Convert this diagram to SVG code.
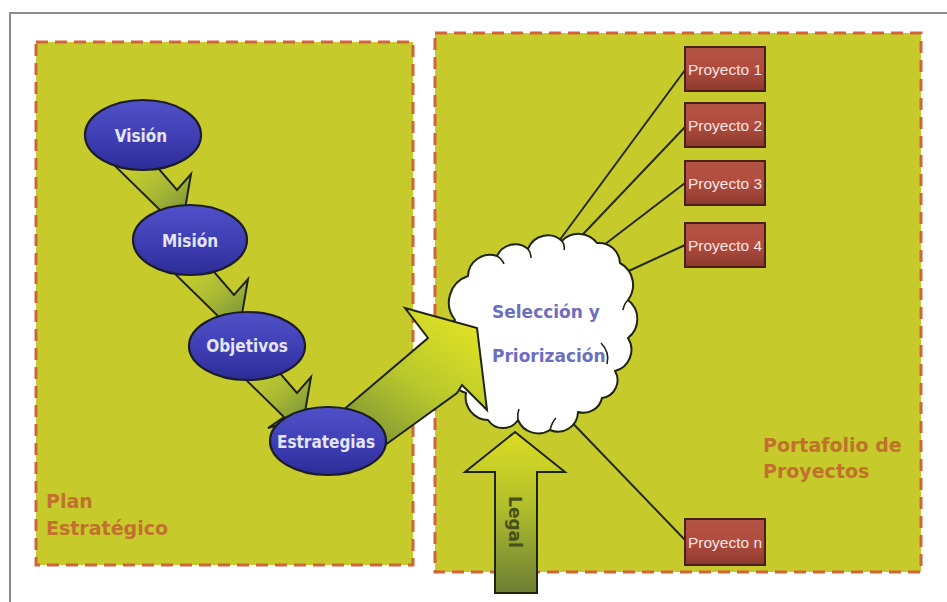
<svg xmlns="http://www.w3.org/2000/svg" width="947" height="602" viewBox="0 0 947 602">
  <style>
    .panel { fill: #c6ca2b; stroke: #d2643a; stroke-width: 3; stroke-dasharray: 12 7; }
    .frame { stroke: #8c8c8c; stroke-width: 2; fill: none; }
    .oval { fill: url(#ovalFill); stroke: #1c1c2a; stroke-width: 2.2; }
    .ovalText { font-family: "DejaVu Sans Condensed", "DejaVu Sans", "Liberation Sans", sans-serif; font-weight: bold; font-size: 17px; fill: #e4e4f8; text-anchor: middle; }
    .step { fill: url(#stepFill); stroke: #1e2410; stroke-width: 2; stroke-linejoin: miter; }
    .link { stroke: #252a0e; stroke-width: 2; fill: none; }
    .proj { fill: url(#projFill); stroke: #4a2016; stroke-width: 2; }
    .projText { font-family: "Liberation Sans", Arial, sans-serif; font-size: 15.5px; fill: #f4e4e4; text-anchor: middle; }
    .caption { font-family: "DejaVu Sans", "Liberation Sans", sans-serif; font-weight: bold; font-size: 19px; fill: #c2702e; }
    .cloud { fill: #ffffff; stroke: #1e2410; stroke-width: 2; stroke-linejoin: round; }
    .cloudText { font-family: "DejaVu Sans", "Liberation Sans", sans-serif; font-weight: bold; font-size: 17px; fill: #6e6ebe; }
    .hook { fill: none; stroke: #1e2410; stroke-width: 1.6; }
  </style>
  <defs>
    <linearGradient id="ovalFill" x1="0" y1="0" x2="0" y2="1">
      <stop offset="0" stop-color="#5050c8"/>
      <stop offset="0.5" stop-color="#4040b6"/>
      <stop offset="1" stop-color="#2c2c98"/>
    </linearGradient>
    <linearGradient id="stepFill" x1="0" y1="0" x2="1" y2="1">
      <stop offset="0" stop-color="#d4da2c"/>
      <stop offset="0.55" stop-color="#a8b834"/>
      <stop offset="1" stop-color="#6e8a3a"/>
    </linearGradient>
    <linearGradient id="bigFill" gradientUnits="userSpaceOnUse" x1="375" y1="455" x2="470" y2="320">
      <stop offset="0" stop-color="#7c9236"/>
      <stop offset="0.5" stop-color="#b8c82c"/>
      <stop offset="1" stop-color="#e2e224"/>
    </linearGradient>
    <linearGradient id="legalFill" x1="0" y1="0" x2="0" y2="1">
      <stop offset="0" stop-color="#dcdc22"/>
      <stop offset="0.45" stop-color="#b2c02c"/>
      <stop offset="1" stop-color="#6c7e34"/>
    </linearGradient>
    <linearGradient id="projFill" x1="0" y1="0" x2="0" y2="1">
      <stop offset="0" stop-color="#b45444"/>
      <stop offset="0.5" stop-color="#b04c3e"/>
      <stop offset="1" stop-color="#8c3a2e"/>
    </linearGradient>
  </defs>

  <rect width="947" height="602" fill="#ffffff"/>
  <path class="frame" d="M10 602 V13 H947"/>

  <!-- panels -->
  <g id="plan-estrategico">
    <rect class="panel" x="36" y="42" width="377" height="523"/>
    <text class="caption" x="46" y="508">Plan</text>
    <text class="caption" x="46" y="535">Estratégico</text>
  </g>
  <g id="portafolio">
    <rect class="panel" x="435" y="33" width="486" height="539"/>
    <text class="caption" x="763" y="452">Portafolio de</text>
    <text class="caption" x="763" y="478">Proyectos</text>
  </g>

  <!-- connectors -->
  <g id="connectors">
    <line class="link" x1="685" y1="70" x2="556" y2="245"/>
    <line class="link" x1="685" y1="127" x2="568" y2="250"/>
    <line class="link" x1="685" y1="183" x2="600" y2="248"/>
    <line class="link" x1="685" y1="245" x2="620" y2="275"/>
    <line class="link" x1="685" y1="540" x2="560" y2="410"/>

    <!-- step arrows between the plan ovals -->
    <polygon class="step" points="112,163 152,161 177,190 191,174 184,215 150,222 164,214"/>
    <polygon class="step" points="169,268 209,266 234,295 248,279 241,320 207,327 221,319"/>
    <polygon class="step" points="232,366 272,364 297,393 311,377 304,418 268,428 284,417"/>
  </g>

  <!-- selection cloud -->
  <g id="seleccion">
    <path class="cloud" d="M455 320
      A28 28 0 0 1 468 276
      A22 22 0 0 1 497 256
      A20 20 0 0 1 528 249
      A21 21 0 0 1 562 241
      A23 23 0 0 1 597 243
      A21 21 0 0 1 620 263
      A25 25 0 0 1 628 300
      A24 24 0 0 1 628 338
      A22 22 0 0 1 615 371
      A18 18 0 0 1 602 398
      A19 19 0 0 1 578 412
      A20 20 0 0 1 550 430
      A22 22 0 0 1 518 420
      A18 18 0 0 1 488 420
      A23 23 0 0 1 466 393
      A22 22 0 0 1 455 358
      A25 25 0 0 1 455 320 Z"/>
    <path class="hook" d="M497 256 Q502 259 504 264"/>
    <path class="hook" d="M528 249 Q531 253 531 258"/>
    <path class="hook" d="M562 241 Q565 245 564 250"/>
    <path class="hook" d="M628 300 Q624 304 623 310"/>
    <path class="hook" d="M601 343 Q610 352 607 364"/>
    <path class="hook" d="M518 420 Q517 414 519 409"/>
    <path class="hook" d="M550 430 Q552 422 556 418"/>
    <text class="cloudText" x="492" y="318">Selección y</text>
    <text class="cloudText" x="492" y="362">Priorización</text>
  </g>

  <!-- arrow from Estrategias into the cloud -->
  <g id="flecha-estrategias">
    <polygon class="step" style="fill:url(#bigFill)" points="335,417 428,338 405,308 477,328 487,410 462,385 457,393 370,456"/>
  </g>

  <!-- Legal input arrow -->
  <g id="legal">
    <polygon class="step" style="fill:url(#legalFill)" points="495,593 495,472 465,472 515,432 565,472 537,472 537,593"/>
    <text transform="translate(509 522) rotate(90)" font-family="DejaVu Sans, Liberation Sans, sans-serif" font-weight="bold" font-size="17" fill="#45501a" text-anchor="middle">Legal</text>
  </g>

  <!-- plan ovals -->
  <g id="vision">
    <ellipse class="oval" cx="143" cy="135" rx="58" ry="35"/>
    <text class="ovalText" x="141" y="142">Visión</text>
  </g>
  <g id="mision">
    <ellipse class="oval" cx="190" cy="240" rx="57" ry="35"/>
    <text class="ovalText" x="190" y="247">Misión</text>
  </g>
  <g id="objetivos">
    <ellipse class="oval" cx="247" cy="346" rx="58" ry="34"/>
    <text class="ovalText" x="247" y="352">Objetivos</text>
  </g>
  <g id="estrategias">
    <ellipse class="oval" cx="328" cy="441" rx="58" ry="34"/>
    <text class="ovalText" x="326" y="448">Estrategias</text>
  </g>

  <!-- project boxes -->
  <g id="proyecto-1">
    <rect class="proj" x="685" y="47" width="80" height="44"/>
    <text class="projText" x="725" y="75">Proyecto 1</text>
  </g>
  <g id="proyecto-2">
    <rect class="proj" x="685" y="103" width="80" height="44"/>
    <text class="projText" x="725" y="131">Proyecto 2</text>
  </g>
  <g id="proyecto-3">
    <rect class="proj" x="685" y="161" width="80" height="44"/>
    <text class="projText" x="725" y="189">Proyecto 3</text>
  </g>
  <g id="proyecto-4">
    <rect class="proj" x="685" y="223" width="80" height="44"/>
    <text class="projText" x="725" y="251">Proyecto 4</text>
  </g>
  <g id="proyecto-n">
    <rect class="proj" x="685" y="519" width="80" height="46"/>
    <text class="projText" x="725" y="548">Proyecto n</text>
  </g>
</svg>
